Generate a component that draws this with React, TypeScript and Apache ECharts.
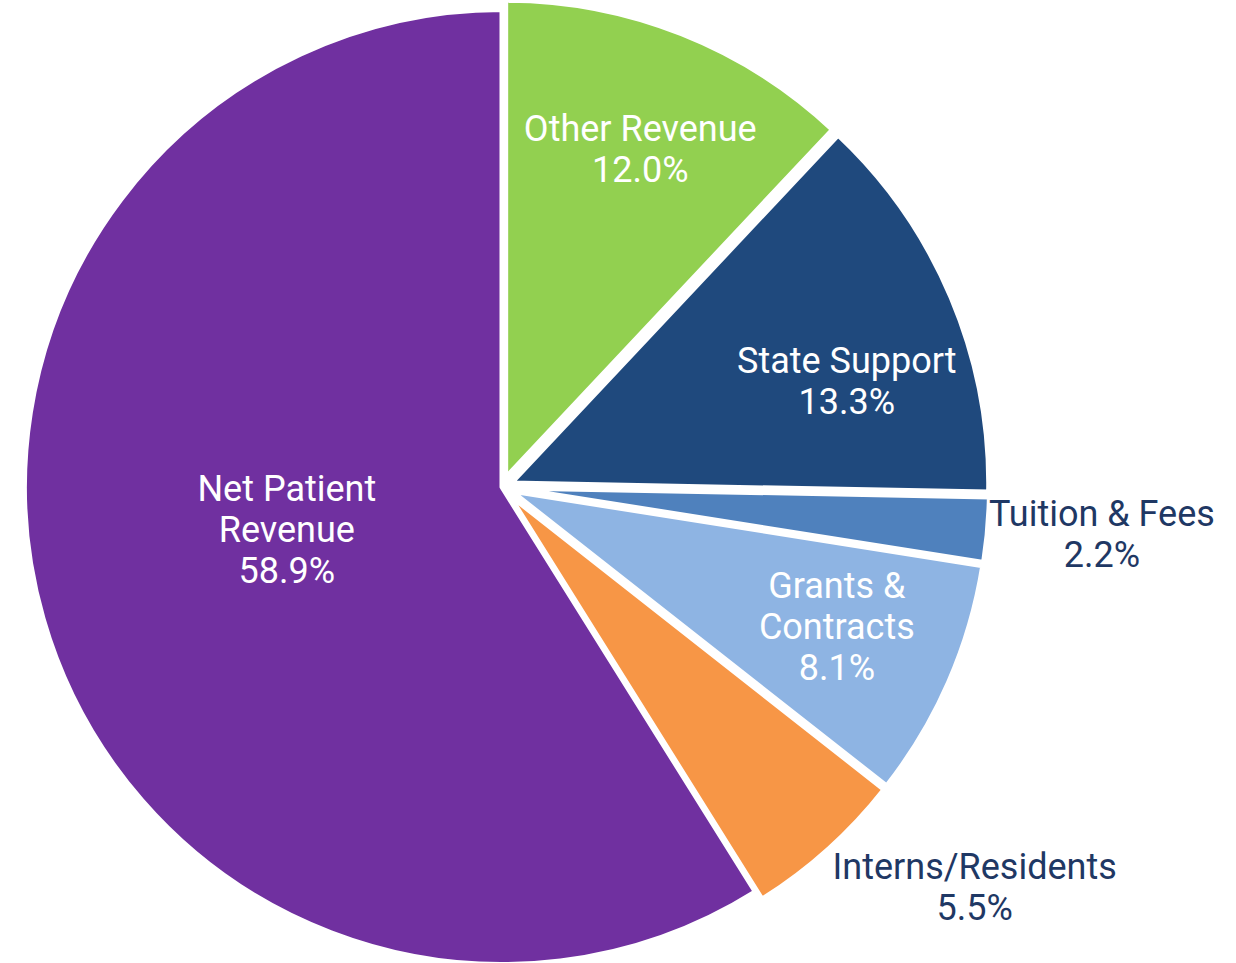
import React, { useEffect, useRef } from "react";
import * as echarts from "echarts";

const categories = [
  "Other Revenue",
  "State Support",
  "Tuition & Fees",
  "Grants &\nContracts",
  "Interns/Residents",
  "Net Patient\nRevenue",
];
const values = [12.0, 13.3, 2.2, 8.1, 5.5, 58.9];
const exploded = [true, true, true, true, true, false];
const colors = ["#92D050", "#1F497D", "#4F81BD", "#8EB4E3", "#F79646", "#7030A0"];
const labelColors = ["#FFFFFF", "#FFFFFF", "#1F3864", "#FFFFFF", "#1F3864", "#FFFFFF"];

// label placement (style): radius as a fraction of the pie radius, angular shift in degrees
const labelRadius = [0.767, 0.759, 1.267, 0.764, 1.304, 0.462];
const labelAngleShift = [0.7, 5.9, -0.5, -0.9, -7.8, 4.7];

const CX = 502;
const CY = 487;
const R = 475;
const BORDER = 5;

export default function App() {
  const ref = useRef<HTMLDivElement>(null);
  useEffect(() => {
    if (!ref.current) return;
    const chart = echarts.init(ref.current, undefined, { renderer: "svg" });
    const total = values.reduce((a, b) => a + b, 0);
    const mids: number[] = [];
    let acc = 0;
    values.forEach((v) => {
      mids.push(((acc + v / 2) / total) * 360);
      acc += v;
    });
    chart.setOption({
      animation: false,
      series: [
        {
          type: "pie",
          name: "slices",
          center: [CX, CY],
          radius: [0, R + BORDER / 2],
          startAngle: 90,
          clockwise: true,
          selectedMode: "multiple",
          selectedOffset: 10,
          itemStyle: { borderColor: "#FFFFFF", borderWidth: BORDER },
          select: { itemStyle: { borderColor: "#FFFFFF", borderWidth: BORDER } },
          emphasis: { disabled: true },
          label: { show: false },
          labelLine: { show: false },
          data: categories.map((name, i) => ({
            name,
            value: values[i],
            selected: exploded[i],
            itemStyle: { color: colors[i] },
            select: { itemStyle: { color: colors[i] } },
          })),
        },
        {
          type: "pie",
          name: "labels",
          center: [CX, CY],
          radius: [0, R],
          startAngle: 90,
          clockwise: true,
          silent: true,
          avoidLabelOverlap: false,
          itemStyle: { color: "rgba(0,0,0,0)", borderWidth: 0 },
          emphasis: { disabled: true },
          labelLine: { show: false },
          label: {
            show: true,
            position: "inside",
            fontFamily: "Roboto",
            fontSize: 36,
            lineHeight: 41,
            align: "center",
            formatter: (p: any) => `${p.name}\n${p.value.toFixed(1)}%`,
          },
          labelLayout: (p: any) => {
            const i = p.dataIndex;
            const a = ((mids[i] + labelAngleShift[i]) * Math.PI) / 180;
            const r = labelRadius[i] * R;
            return {
              x: CX + r * Math.sin(a),
              y: CY - r * Math.cos(a),
              align: "center",
              verticalAlign: "middle",
            };
          },
          data: categories.map((name, i) => ({
            name,
            value: values[i],
            label: { color: labelColors[i] },
          })),
        },
      ],
    });
    return () => chart.dispose();
  }, []);
  return (
    <div
      ref={ref}
      style={{ position: "absolute", left: 0, top: 0, width: 1236, height: 963 }}
    />
  );
}
